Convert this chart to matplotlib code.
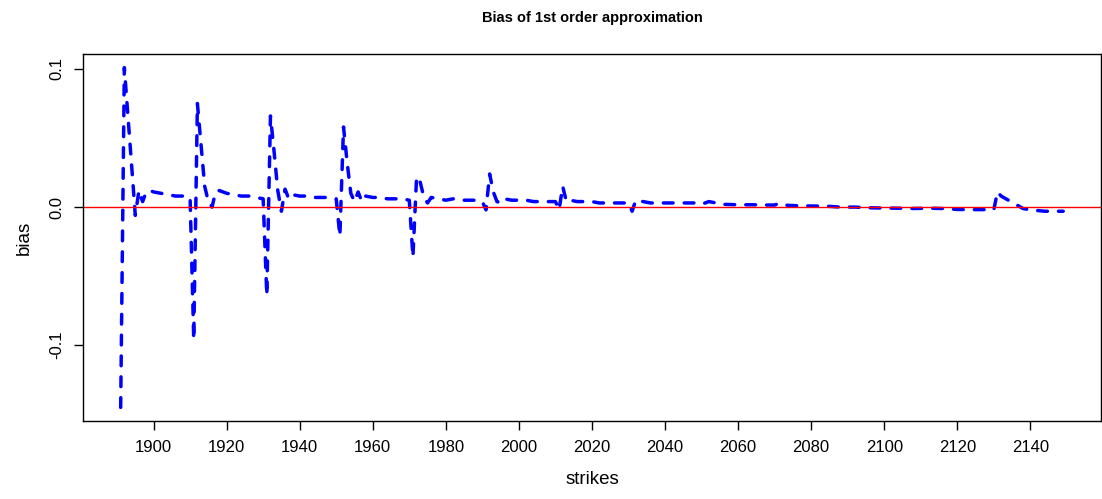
import matplotlib
matplotlib.use("Agg")
import matplotlib.pyplot as plt

plt.rcParams['font.family'] = ['Liberation Sans', 'DejaVu Sans']

# strikes and bias of the 1st order approximation
strikes = [1891, 1892, 1893, 1894, 1895, 1896, 1897, 1898, 1899, 1900, 1902, 1904, 1906, 1908, 1910,
           1911, 1912, 1913, 1914, 1915, 1916, 1917, 1918, 1920, 1922, 1924, 1926, 1928, 1930,
           1931, 1932, 1933, 1934, 1935, 1936, 1937, 1938, 1940, 1942, 1944, 1946, 1948, 1950,
           1951, 1952, 1953, 1954, 1955, 1956, 1957, 1958, 1960, 1962, 1964, 1966, 1968, 1970,
           1971, 1972, 1973, 1974, 1975, 1976, 1978, 1980, 1982, 1984, 1986, 1988, 1990,
           1991, 1992, 1993, 1994, 1995, 1996, 1998, 2000, 2002, 2004, 2006, 2008, 2010,
           2011, 2012, 2013, 2014, 2016, 2018, 2020, 2022, 2024, 2026, 2028, 2030,
           2031, 2032, 2034, 2036, 2040, 2044, 2048, 2050, 2051, 2052, 2054, 2056, 2060, 2064,
           2068, 2070, 2071, 2072, 2076, 2080, 2084, 2088, 2092, 2096, 2100, 2104, 2108, 2112,
           2116, 2120, 2124, 2128, 2130,
           2131, 2132, 2134, 2136, 2138, 2140, 2144, 2149]

bias = [-0.145, 0.101, 0.066, 0.030, -0.006, 0.012, 0.004, 0.011, 0.012, 0.011, 0.010, 0.009, 0.008, 0.008, 0.007,
        -0.096, 0.075, 0.045, 0.015, 0.004, 0.000, 0.011, 0.012, 0.010, 0.009, 0.008, 0.008, 0.007, 0.006,
        -0.064, 0.066, 0.040, 0.012, -0.003, 0.013, 0.006, 0.009, 0.008, 0.008, 0.007, 0.007, 0.007, 0.006,
        -0.021, 0.058, 0.032, 0.010, 0.004, 0.011, 0.004, 0.008, 0.007, 0.007, 0.006, 0.006, 0.006, 0.005,
        -0.036, 0.022, 0.018, 0.007, 0.003, 0.007, 0.006, 0.005, 0.006, 0.005, 0.005, 0.005, 0.004,
        -0.002, 0.024, 0.011, 0.004, 0.003, 0.006, 0.005, 0.005, 0.005, 0.004, 0.004, 0.004, 0.004,
        -0.002, 0.015, 0.004, 0.005, 0.004, 0.004, 0.004, 0.003, 0.003, 0.003, 0.003, 0.003,
        -0.003, 0.005, 0.004, 0.003, 0.003, 0.003, 0.003, 0.002, 0.003, 0.004, 0.003, 0.002, 0.0017, 0.0017,
        0.0015, 0.0015, 0.0025, 0.0015, 0.001, 0.0008, 0.0007, 0.0, 0.0, -0.0005, -0.0007, -0.0008, -0.001, -0.0008,
        -0.001, -0.0017, -0.0018, -0.0018, -0.002,
        0.011, 0.008, 0.005, 0.002, -0.001, -0.002, -0.003, -0.003]

xticks = [1900, 1920, 1940, 1960, 1980, 2000, 2020, 2040, 2060, 2080, 2100, 2120, 2140]
yticks = [-0.1, 0.0, 0.1]
ytick_labels = ["-0.1", "0.0", "0.1"]

fig = plt.figure(figsize=(11.02, 4.99), dpi=100)
ax = fig.add_axes([0.0753, 0.1563, 0.9237, 0.7355])

line, = ax.plot(strikes, bias, color='blue', linewidth=2.5,
                linestyle='--', dash_capstyle='round')
line.set_dashes([2.8, 3.2])
ax.axhline(0, color='red', linewidth=1)

# R style 4% padding
xr = max(strikes) - min(strikes)
yr = max(bias) - min(bias)
ax.set_xlim(min(strikes) - 0.04 * xr, max(strikes) + 0.04 * xr)
ax.set_ylim(min(bias) - 0.04 * yr, max(bias) + 0.04 * yr)

ax.set_xticks(xticks)
ax.set_yticks(yticks)
ax.set_yticklabels(ytick_labels, rotation=90, va='center')
ax.tick_params(axis='both', direction='out', length=6.5, width=1, labelsize=12, pad=7)
for s in ax.spines.values():
    s.set_linewidth(1)

ax.set_xlabel("strikes", fontsize=13.5, labelpad=12)
ax.set_ylabel("bias", fontsize=13.5, labelpad=12)
ax.set_title("Bias of 1st order approximation", fontsize=10.5, fontweight='bold', pad=23)

fig.savefig("out.png", dpi=100)
